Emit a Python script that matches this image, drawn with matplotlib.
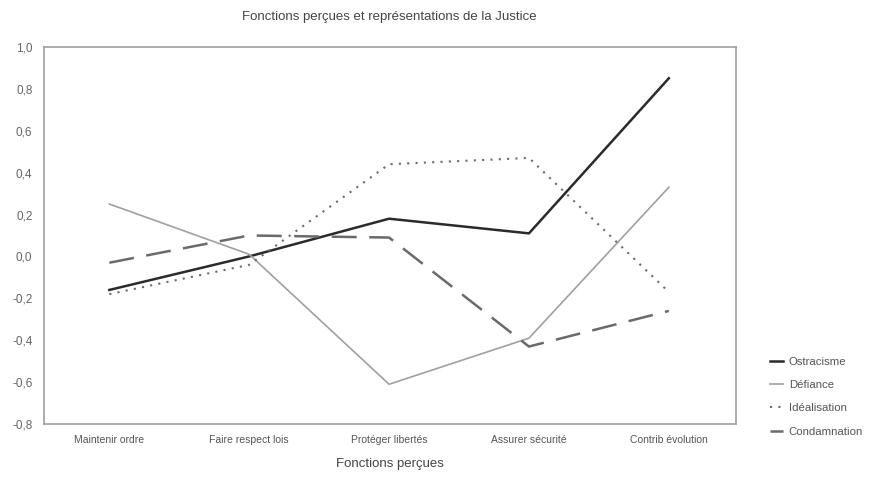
import numpy as np
import matplotlib
matplotlib.use('Agg')
import matplotlib.pyplot as plt
from matplotlib.ticker import FuncFormatter

plt.rcParams['font.family'] = ['Liberation Sans', 'DejaVu Sans']

# données
categories = ['Maintenir ordre', 'Faire respect lois', 'Protéger libertés',
              'Assurer sécurité', 'Contrib évolution']
ostracisme = [-0.16, 0.00, 0.18, 0.11, 0.85]
defiance = [0.25, 0.01, -0.61, -0.39, 0.33]
idealisation = [-0.18, -0.04, 0.44, 0.47, -0.17]
condamnation = [-0.03, 0.10, 0.09, -0.43, -0.26]
y_ticks = [-0.8, -0.6, -0.4, -0.2, 0.0, 0.2, 0.4, 0.6, 0.8, 1.0]

txt = '#555555'
fig = plt.figure(figsize=(8.72, 4.88), dpi=100)
ax = fig.add_axes([0.050, 0.131, 0.794, 0.773])

x = np.arange(len(categories))
ax.plot(x, ostracisme, color='#2b2b2b', lw=1.8, label='Ostracisme')
ax.plot(x, defiance, color='#a0a0a0', lw=1.2, label='Défiance')
ax.plot(x, idealisation, color='#6a6a6a', lw=1.5, ls=(0, (1, 3)), label='Idéalisation')
ax.plot(x, condamnation, color='#6a6a6a', lw=1.8, ls=(0, (10, 5)), label='Condamnation')

ax.set_xlim(-0.47, 4.48)
ax.set_ylim(-0.8, 1.0)
ax.set_xticks(x)
ax.set_xticklabels(categories, fontsize=7.5, color=txt)
ax.set_yticks(y_ticks)
ax.yaxis.set_major_formatter(FuncFormatter(lambda v, p: f'{v:.1f}'.replace('.', ',')))
ax.tick_params(axis='y', labelsize=8.5, labelcolor='#666666', length=0, pad=8)
ax.tick_params(axis='x', length=0, pad=8)
for s in ax.spines.values():
    s.set_color('#a0a0a0')
    s.set_linewidth(1.2)

ax.set_title('Fonctions perçues et représentations de la Justice', fontsize=9.5, color='#444444', pad=19)
ax.set_xlabel('Fonctions perçues', fontsize=9.5, color='#444444', labelpad=9)

ax.legend(loc='center left', bbox_to_anchor=(1.035, 0.072), frameon=False, fontsize=8.2,
          labelcolor=txt, handlelength=1.1, handletextpad=0.5, labelspacing=1.15)

fig.savefig('out.png', dpi=100, facecolor='white')
